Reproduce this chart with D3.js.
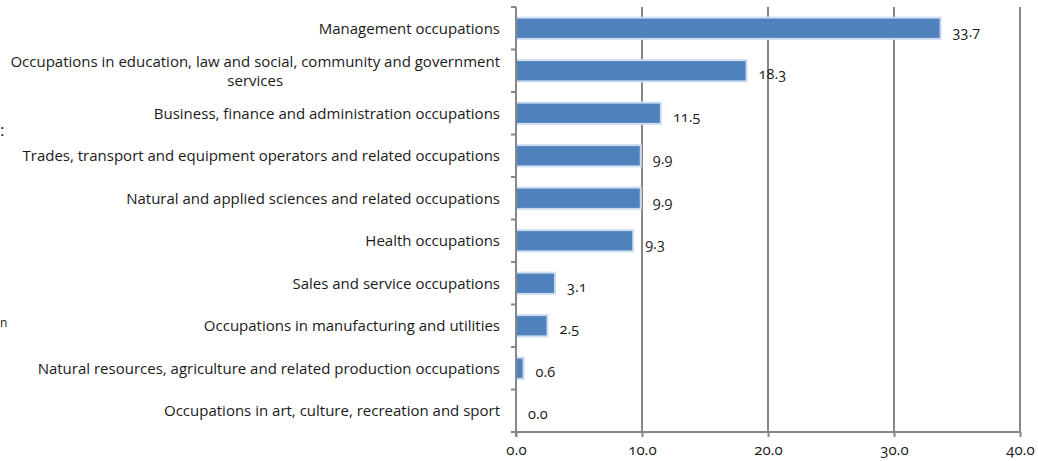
<!DOCTYPE html>
<html>
<head>
<meta charset="utf-8">
<script src="https://cdn.jsdelivr.net/npm/d3@7"></script>
<style>
  html, body { margin: 0; padding: 0; background: #fff; }
  svg { display: block; }
  text { font-family: "Open Sans", "Noto Sans", sans-serif; fill: #1a1a1a; }
</style>
</head>
<body>
<svg id="chart" width="1038" height="461"></svg>
<script>
// ---- data ----
const categories = [
  "Management occupations",
  "Occupations in education, law and social, community and government services",
  "Business, finance and administration occupations",
  "Trades, transport and equipment operators and related occupations",
  "Natural and applied sciences and related occupations",
  "Health occupations",
  "Sales and service occupations",
  "Occupations in manufacturing and utilities",
  "Natural resources, agriculture and related production occupations",
  "Occupations in art, culture, recreation and sport"
];
const values = [33.7, 18.3, 11.5, 9.9, 9.9, 9.3, 3.1, 2.5, 0.6, 0.0];
const xTicks = [0, 10, 20, 30, 40];
const edgeFragments = [":", "n"]; // partial text visible at the left edge

// ---- layout ----
const plotL = 516, plotR = 1020, plotT = 7, plotB = 432;
const svg = d3.select("#chart");

const x = d3.scaleLinear().domain([0, 40]).range([plotL, plotR]);
const y = d3.scaleBand().domain(categories).range([plotT, plotB]).paddingInner(0.5).paddingOuter(0.25);
const yb = d3.scaleBand().domain(categories).range([plotT, plotB]);

const gridColor = "#878787";

// gridlines
svg.append("g").selectAll("line").data(xTicks.slice(1)).join("line")
  .attr("x1", d => x(d)).attr("x2", d => x(d))
  .attr("y1", plotT).attr("y2", plotB)
  .attr("stroke", gridColor).attr("stroke-width", 2);

// bars
svg.append("g").selectAll("rect").data(values).join("rect")
  .attr("x", x(0))
  .attr("y", (d, i) => y(categories[i]))
  .attr("width", d => x(d) - x(0))
  .attr("height", y.bandwidth())
  .attr("fill", "#4f81bd")
  .attr("stroke", "#cddcf0")
  .attr("stroke-width", d => d > 0 ? 2 : 0);

// value labels
svg.append("g").selectAll("text").data(values).join("text")
  .attr("x", d => x(d) + 12)
  .attr("y", (d, i) => yb(categories[i]) + yb.bandwidth() / 2 + 8.5)
  .attr("font-size", 14.5)
  .style("font-variant-numeric", "oldstyle-nums")
  .text(d => d.toFixed(1));

// y axis (left) with ticks between categories
const yAxisG = svg.append("g");
yAxisG.append("line").attr("x1", plotL).attr("x2", plotL).attr("y1", plotT).attr("y2", plotB + 5)
  .attr("stroke", gridColor).attr("stroke-width", 2);
const bounds = categories.map(c => yb(c));
yAxisG.selectAll("line.t").data(bounds).join("line").attr("class", "t")
  .attr("x1", plotL - 5).attr("x2", plotL)
  .attr("y1", d => d).attr("y2", d => d)
  .attr("stroke", gridColor).attr("stroke-width", 2);

// x axis
const xAxis = d3.axisBottom(x).tickValues(xTicks).tickSize(5).tickSizeOuter(0)
  .tickFormat(d3.format(".1f"));
const xg = svg.append("g").attr("transform", `translate(0,${plotB})`).call(xAxis);
xg.select(".domain").attr("stroke", gridColor).attr("stroke-width", 2).attr("d", `M${plotL - 5},0H${plotR}`);
xg.selectAll(".tick line").attr("stroke", gridColor).attr("stroke-width", 2);
xg.selectAll(".tick text")
  .attr("y", 23).attr("dy", 0)
  .attr("font-size", 15)
  .style("font-variant-numeric", "oldstyle-nums")
  .style("font-family", "'Open Sans', sans-serif")
  .attr("fill", "#1a1a1a");

// category labels with wrapping
const labelRight = 500, maxW = 500, fs = 15, lineH = 19;
const labG = svg.append("g");
categories.forEach((c, i) => {
  const cy = yb(c) + yb.bandwidth() / 2;
  const t = labG.append("text").attr("font-size", fs).attr("text-anchor", "middle");
  const words = c.split(" ");
  const lines = [];
  let cur = [];
  const probe = labG.append("text").attr("font-size", fs);
  words.forEach(w => {
    const test = cur.concat([w]).join(" ");
    probe.text(test);
    if (probe.node().getComputedTextLength() > maxW && cur.length) {
      lines.push(cur.join(" "));
      cur = [w];
    } else cur.push(w);
  });
  lines.push(cur.join(" "));
  const widths = lines.map(l => { probe.text(l); return probe.node().getComputedTextLength(); });
  probe.remove();
  const bw = d3.max(widths);
  const cx = labelRight - bw / 2;
  const y0 = cy - (lines.length - 1) * lineH / 2;
  lines.forEach((l, k) => {
    t.append("tspan").attr("x", cx).attr("y", y0 + k * lineH).attr("dy", "0.35em").text(l);
  });
});

// partial texts at the left edge
svg.append("g").selectAll("text").data(edgeFragments).join("text")
  .attr("x", 0).attr("text-anchor", "start")
  .attr("y", (d, i) => [136, 327][i])
  .attr("font-size", (d, i) => [17, 12][i]).attr("fill", "#333")
  .text(d => d);
</script>
</body>
</html>
